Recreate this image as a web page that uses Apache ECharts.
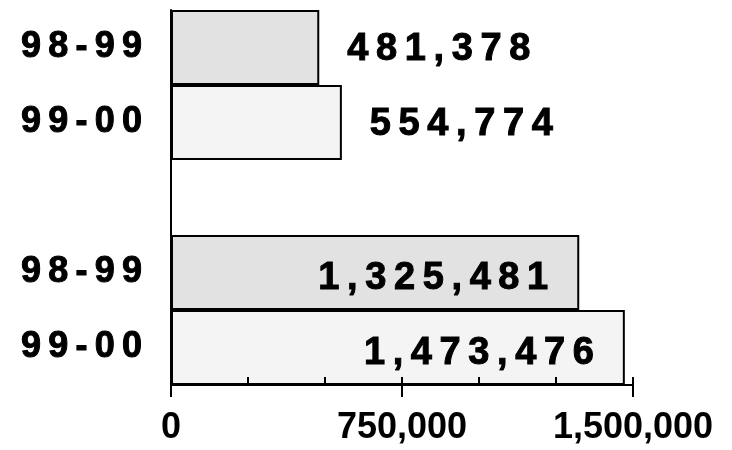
<!DOCTYPE html>
<html>
<head>
<meta charset="utf-8">
<script src="https://cdn.jsdelivr.net/npm/echarts@6/dist/echarts.min.js"></script>
<style>
  html, body { margin: 0; padding: 0; background: #fff; }
  #chart { width: 732px; height: 450px; }
</style>
</head>
<body>
<div id="chart"></div>
<script>
// rows top to bottom, empty row separates the two groups
const categories = ['98-99', '99-00', '', '98-99', '99-00'];
const groupTop = [481378, 554774];
const groupBottom = [1325481, 1473476];
const xTicks = [0, 750000, 1500000];

const yearColor = { '98-99': '#e2e2e2', '99-00': '#f4f4f4' };
const fontFamily = '"Liberation Sans", Arial, sans-serif';

// the original labels are letter-spaced and heavy
const spread = (s, gap) => s.split('').join(gap);
const fmt = v => v.toLocaleString('en-US');

const barData = [];
groupTop.forEach((v, i) => {
  barData.push({
    value: v,
    itemStyle: { color: yearColor[categories[i]] },
    label: { position: 'right', distance: 28, offset: [0, 2] }
  });
});
barData.push(null);
groupBottom.forEach((v, i) => {
  barData.push({
    value: v,
    itemStyle: { color: yearColor[categories[i + 3]] },
    label: { position: 'insideRight', distance: 31, offset: [0, 6] }
  });
});

const chart = echarts.init(document.getElementById('chart'));
chart.setOption({
  animation: false,
  grid: { left: 171, right: 99, top: 10, bottom: 65 },
  xAxis: [
    {
      type: 'value',
      z: 5,
      min: 0,
      max: xTicks[xTicks.length - 1],
      interval: 250000,
      axisLine: { show: true, lineStyle: { color: '#000', width: 2 } },
      axisTick: { show: true, inside: true, length: 8, lineStyle: { color: '#000', width: 2 } },
      axisLabel: { show: false },
      splitLine: { show: false }
    },
    {
      type: 'value',
      z: 5,
      position: 'bottom',
      min: 0,
      max: xTicks[xTicks.length - 1],
      interval: xTicks[1] - xTicks[0],
      axisLine: { show: false },
      axisTick: { show: true, inside: false, length: 12, lineStyle: { color: '#000', width: 2 } },
      axisLabel: {
        margin: 25,
        color: '#000',
        fontFamily: fontFamily,
        fontWeight: 'bold',
        fontSize: 36,
        formatter: v => fmt(v)
      },
      splitLine: { show: false }
    }
  ],
  yAxis: {
    type: 'category',
    inverse: true,
    data: categories,
    axisLine: { lineStyle: { color: '#000', width: 2 } },
    axisTick: { length: 16, lineStyle: { color: '#000', width: 2 } },
    axisLabel: {
      margin: 29,
      color: '#000',
      fontFamily: fontFamily,
      fontWeight: 'bold',
      fontSize: 36,
      padding: [6, 0, 0, 0],
      textBorderColor: '#000',
      textBorderWidth: 1,
      formatter: v => spread(v, '\u2009')
    }
  },
  series: [{
    type: 'bar',
    xAxisIndex: 0,
    barCategoryGap: '0%',
    data: barData,
    itemStyle: { borderColor: '#000', borderWidth: 2 },
    label: {
      show: true,
      color: '#000',
      fontFamily: fontFamily,
      fontWeight: 'bold',
      fontSize: 38,
      textBorderColor: '#000',
      textBorderWidth: 1,
      formatter: p => spread(fmt(p.value), '\u2009')
    }
  }]
});
</script>
</body>
</html>
